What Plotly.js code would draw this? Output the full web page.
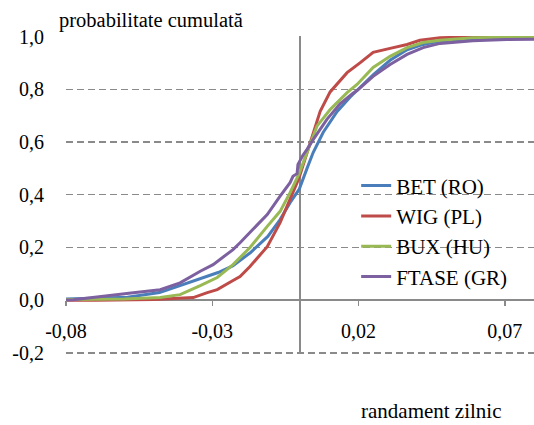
<!DOCTYPE html>
<html>
<head>
<meta charset="utf-8">
<script src="https://cdn.plot.ly/plotly-3.0.1.min.js"></script>
<style>html,body{margin:0;padding:0;background:#fff}#chart{width:534px;height:425px}</style>
</head>
<body>
<div id="chart"></div>
<script>
// Series names
const seriesNames = ["BET (RO)", "WIG (PL)", "BUX (HU)", "FTASE (GR)"];
const seriesColors = ["#4A7EBB", "#BE4B48", "#98B954", "#7D60A0"];

const betX = [-0.082, -0.070, -0.059, -0.048, -0.041, -0.034, -0.028, -0.023, -0.017, -0.011, -0.0068, -0.0034, -0.0003, 0.0024, 0.0045, 0.0079, 0.0127, 0.0171, 0.0229, 0.0250, 0.0308, 0.0366, 0.0421, 0.0479, 0.0591, 0.0700, 0.0820];
const betY = [0.004, 0.008, 0.011, 0.029, 0.055, 0.082, 0.105, 0.130, 0.180, 0.242, 0.306, 0.370, 0.420, 0.500, 0.560, 0.636, 0.716, 0.770, 0.830, 0.855, 0.910, 0.950, 0.970, 0.983, 0.992, 0.997, 1.000];

const wigX = [-0.082, -0.070, -0.050, -0.0365, -0.0317, -0.0283, -0.0229, -0.0205, -0.0171, -0.0112, -0.0068, -0.0034, -0.0010, 0.0000, 0.0024, 0.0045, 0.0069, 0.0103, 0.0130, 0.0161, 0.0205, 0.0250, 0.0308, 0.0366, 0.0410, 0.0479, 0.0591, 0.0820];
const wigY = [0.000, 0.000, 0.003, 0.010, 0.029, 0.040, 0.075, 0.090, 0.128, 0.203, 0.294, 0.380, 0.446, 0.475, 0.560, 0.640, 0.716, 0.790, 0.826, 0.863, 0.900, 0.940, 0.955, 0.970, 0.986, 0.995, 1.000, 1.000];

const buxX = [-0.082, -0.060, -0.0478, -0.0410, -0.0341, -0.0283, -0.0229, -0.0171, -0.0112, -0.0068, -0.0034, -0.0003, 0.0024, 0.0058, 0.0103, 0.0137, 0.0161, 0.0195, 0.0250, 0.0308, 0.0366, 0.0421, 0.0479, 0.0591, 0.0820];
const buxY = [0.002, 0.005, 0.010, 0.021, 0.055, 0.086, 0.135, 0.200, 0.280, 0.337, 0.408, 0.480, 0.560, 0.660, 0.723, 0.761, 0.787, 0.818, 0.883, 0.925, 0.958, 0.977, 0.986, 0.995, 1.000];

const ftaseX = [-0.082, -0.0775, -0.0570, -0.0478, -0.0410, -0.0365, -0.0341, -0.0297, -0.0249, -0.0229, -0.0205, -0.0171, -0.0112, -0.0068, -0.0034, -0.0024, -0.0010, -0.0007, 0.0010, 0.0024, 0.0045, 0.0092, 0.0137, 0.0181, 0.0195, 0.0250, 0.0308, 0.0366, 0.0421, 0.0479, 0.0591, 0.0707, 0.0820];
const ftaseY = [0.000, 0.002, 0.028, 0.040, 0.066, 0.095, 0.110, 0.135, 0.173, 0.192, 0.218, 0.256, 0.325, 0.395, 0.446, 0.470, 0.480, 0.515, 0.550, 0.572, 0.609, 0.686, 0.745, 0.785, 0.795, 0.849, 0.894, 0.932, 0.958, 0.974, 0.984, 0.989, 0.990];

// Axis ticks
const xTickVals = [-0.08, -0.03, 0.02, 0.07];
const xTickText = ["-0,08", "-0,03", "0,02", "0,07"];
const yTickVals = [-0.2, 0.0, 0.2, 0.4, 0.6, 0.8, 1.0];
const yTickText = ["-0,2", "0,0", "0,2", "0,4", "0,6", "0,8", "1,0"];

const xTitle = "randament zilnic";
const yTitle = "probabilitate cumulată";

const xs = [betX, wigX, buxX, ftaseX];
const ys = [betY, wigY, buxY, ftaseY];

const traces = seriesNames.map((n, i) => ({
  type: "scatter", mode: "lines", name: n,
  x: xs[i], y: ys[i],
  line: {color: seriesColors[i], width: 3},
  hoverinfo: "skip"
}));

const FONT = '"Liberation Serif", "Times New Roman", serif';
const layout = {
  width: 534, height: 425,
  margin: {l: 66, r: 0, t: 36, b: 71, pad: 0},
  paper_bgcolor: "#fff", plot_bgcolor: "#fff",
  font: {family: FONT, color: "#000", size: 18},
  showlegend: true,
  legend: {
    x: 0.62, y: 0.593, xanchor: "left", yanchor: "top",
    bgcolor: "rgba(0,0,0,0)", borderwidth: 0,
    font: {family: FONT, size: 21, color: "#000"},
    tracegroupgap: 0
  },
  xaxis: {
    range: [-0.08, 0.08],
    anchor: "free", position: 0.204 / 1.206,
    showgrid: false,
    zeroline: true, zerolinecolor: "#8A8A8A", zerolinewidth: 2,
    showline: false,
    ticks: "outside", ticklen: 5, tickwidth: 1.5, tickcolor: "#8A8A8A",
    tickvals: xTickVals, ticktext: xTickText,
    ticklabelstandoff: 8,
    tickfont: {family: FONT, size: 20, color: "#000"}
  },
  yaxis: {
    range: [-0.204, 1.002],
    showgrid: true, gridcolor: "#8A8A8A", gridwidth: 1.5, griddash: "7px,4px",
    zeroline: true, zerolinecolor: "#8A8A8A", zerolinewidth: 1.5,
    showline: false, ticks: "",
    tickvals: yTickVals, ticktext: yTickText,
    ticklabelstandoff: 21,
    tickfont: {family: FONT, size: 20, color: "#000"}
  },
  annotations: [
    {text: yTitle, xref: "paper", yref: "paper", x: -0.02, y: 1.0, xanchor: "left", yanchor: "bottom",
     yshift: 2, showarrow: false, font: {family: FONT, size: 20.5, color: "#000"}},
    {text: xTitle, xref: "paper", yref: "paper", x: 0.627, y: 0, xanchor: "left", yanchor: "middle",
     yshift: -57, showarrow: false, font: {family: FONT, size: 21, color: "#000"}}
  ]
};

Plotly.newPlot("chart", traces, layout, {displayModeBar: false, staticPlot: true});
</script>
</body>
</html>
